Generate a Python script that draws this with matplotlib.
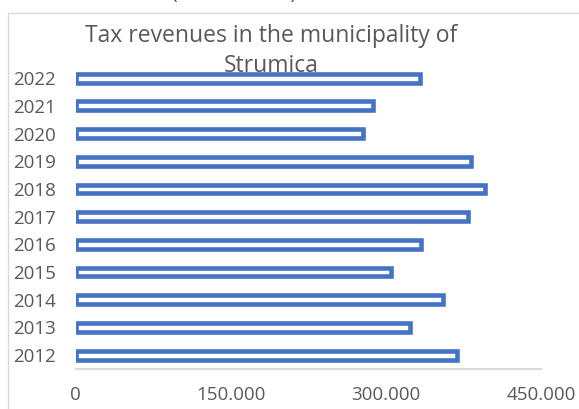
import matplotlib
matplotlib.use('Agg')
import matplotlib.pyplot as plt
from matplotlib.patches import Rectangle
from matplotlib.ticker import FuncFormatter

years = ['2012', '2013', '2014', '2015', '2016', '2017',
         '2018', '2019', '2020', '2021', '2022']
revenues = [368300, 322600, 354700, 304300, 333800, 378600,
            395300, 382400, 277200, 287500, 332800]
x_ticks = [0, 150000, 300000, 450000]

title = 'Tax revenues in the municipality of\nStrumica'
caption = 'Strumica (2012 - 2022)'

BLUE = '#4472C4'
TEXT = '#595959'
LINE = '#D9D9D9'

plt.rcParams['font.family'] = ['Open Sans', 'DejaVu Sans']

fig = plt.figure(figsize=(5.79, 4.09), dpi=100)
ax = fig.add_axes([0.1304, 0.0978, 0.8048, 0.745])

# chart border (cut off on right/bottom in the source)
fig.patches.append(Rectangle((8 / 579, -0.05), 1.0, 1 - 12.7 / 409 + 0.05,
                             transform=fig.transFigure, fill=False,
                             edgecolor=LINE, linewidth=1.0))

ypos = list(range(len(years)))
ax.barh(ypos, revenues, height=0.32, color='white', edgecolor=BLUE,
        linewidth=3.3)

ax.set_ylim(-0.5, len(years) - 0.5)
ax.set_xlim(0, 450000)
ax.set_yticks(ypos)
ax.set_yticklabels(years)
ax.set_xticks(x_ticks)
ax.xaxis.set_major_formatter(FuncFormatter(lambda v, p: f'{int(v):,}'.replace(',', '.')))

for s in ['top', 'right', 'left']:
    ax.spines[s].set_visible(False)
ax.spines['bottom'].set_color(LINE)
ax.spines['bottom'].set_linewidth(1.5)
ax.tick_params(axis='both', length=0, colors=TEXT, labelsize=13.5)
ax.tick_params(axis='y', pad=14)
ax.tick_params(axis='x', pad=12)

t = fig.text(271 / 579, 1 - 24 / 409, title, ha='center', va='top',
             fontsize=16.5, color=TEXT, linespacing=1.35)
fig.text(297 / 579, 1 + 1 / 409, caption, ha='right', va='baseline',
         fontsize=15, color=TEXT)

fig.savefig('out.png', dpi=100)
